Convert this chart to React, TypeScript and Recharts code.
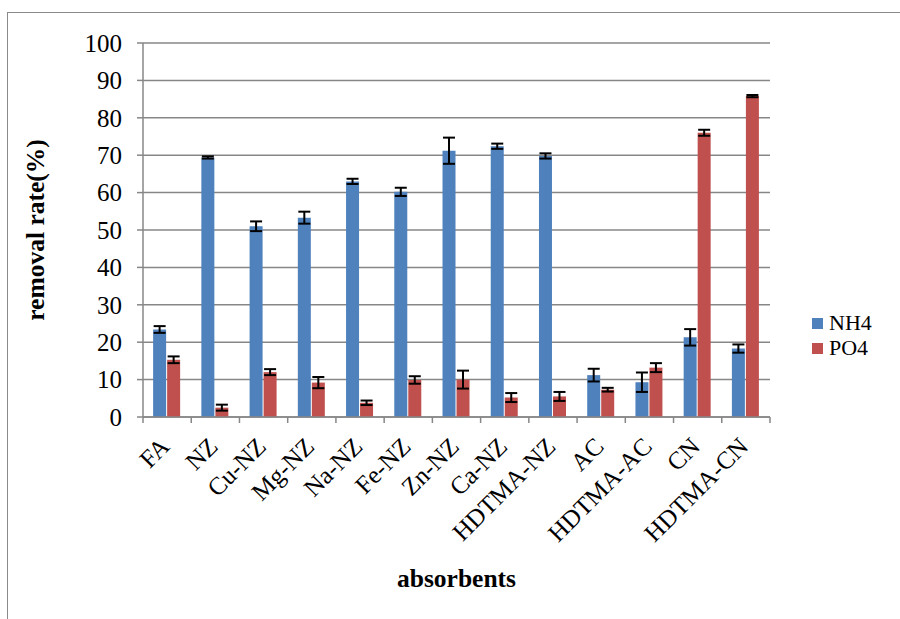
import React from 'react';
import { BarChart, Bar, XAxis, YAxis, CartesianGrid, ErrorBar } from 'recharts';

const categories = ['FA', 'NZ', 'Cu-NZ', 'Mg-NZ', 'Na-NZ', 'Fe-NZ', 'Zn-NZ', 'Ca-NZ', 'HDTMA-NZ', 'AC', 'HDTMA-AC', 'CN', 'HDTMA-CN'];
const nh4 = [23.4, 69.4, 51.0, 53.3, 63.0, 60.2, 71.2, 72.4, 69.8, 11.2, 9.3, 21.3, 18.3];
const nh4Err = [0.9, 0.3, 1.3, 1.6, 0.7, 1.1, 3.5, 0.7, 0.7, 1.7, 2.6, 2.2, 1.1];
const po4 = [15.3, 2.5, 12.0, 9.2, 3.8, 9.9, 10.0, 5.2, 5.5, 7.3, 13.2, 76.0, 85.8];
const po4Err = [0.9, 0.8, 0.8, 1.5, 0.6, 1.0, 2.4, 1.2, 1.2, 0.5, 1.2, 0.8, 0.3];
const yTicks = [0, 10, 20, 30, 40, 50, 60, 70, 80, 90, 100];
const seriesNames = ['NH4', 'PO4'];
const colors = ['#4F81BD', '#C0504D'];

const data = categories.map((c, i) => ({
  name: c,
  nh4: nh4[i],
  nh4Err: nh4Err[i],
  po4: po4[i],
  po4Err: po4Err[i],
}));

const W = 900;
const H = 619;
const MARGIN = { top: 43, right: 130, left: 0, bottom: 52 };
const Y_AXIS_W = 143;
const X_AXIS_H = 150;
const PLOT_W = W - MARGIN.left - MARGIN.right - Y_AXIS_W;
const BAND = PLOT_W / categories.length;
const FONT = '"Liberation Serif", "Times New Roman", serif';
const GRID = '#878787';

const CatTick = (props: any) => {
  const { x, y, payload, index } = props;
  const ax = x + 4;
  const ay = y + 31;
  return (
    <g>
      <line x1={x - BAND / 2} y1={y} x2={x - BAND / 2} y2={y + 6} stroke={GRID} strokeWidth={1.5} />
      {index === categories.length - 1 && (
        <line x1={x + BAND / 2} y1={y} x2={x + BAND / 2} y2={y + 6} stroke={GRID} strokeWidth={1.5} />
      )}
      <text
        x={ax}
        y={ay}
        textAnchor="end"
        transform={`rotate(-45 ${ax} ${ay})`}
        fontFamily={FONT}
        fontSize={25}
        fill="#000"
      >
        {payload.value}
      </text>
    </g>
  );
};

const YLabel = (props: any) => {
  const { viewBox } = props;
  const cx = viewBox.x + 35;
  const cy = viewBox.y + viewBox.height / 2;
  return (
    <text
      x={cx}
      y={cy}
      transform={`rotate(-90 ${cx} ${cy})`}
      textAnchor="middle"
      dominantBaseline="central"
      fontFamily={FONT}
      fontWeight="bold"
      fontSize={25.5}
      fill="#000"
    >
      removal rate(%)
    </text>
  );
};

const XLabel = (props: any) => {
  const { viewBox } = props;
  const cx = viewBox.x + viewBox.width / 2;
  const cy = viewBox.y + 161;
  return (
    <text
      x={cx}
      y={cy}
      textAnchor="middle"
      dominantBaseline="central"
      fontFamily={FONT}
      fontWeight="bold"
      fontSize={25.5}
      fill="#000"
    >
      absorbents
    </text>
  );
};

export default function App() {
  return (
    <div style={{ position: 'fixed', left: 0, top: 0, width: W, height: H, overflow: 'hidden', background: '#fff' }}>
      <div
        style={{
          position: 'absolute',
          left: 7,
          top: 12,
          width: 1000,
          height: 1000,
          borderLeft: '1.5px solid #8a8a8a',
          borderTop: '1.5px solid #8a8a8a',
        }}
      />
      <div style={{ position: 'absolute', left: 0, top: 0 }}>
        <BarChart
          width={W}
          height={H}
          data={data}
          margin={MARGIN}
          barCategoryGap="21%"
          barGap={1}
        >
          <CartesianGrid vertical={false} stroke={GRID} strokeWidth={1.5} />
          <XAxis
            dataKey="name"
            height={X_AXIS_H}
            interval={0}
            tickLine={false}
            tickSize={0}
            tickMargin={0}
            axisLine={{ stroke: GRID, strokeWidth: 1.5 }}
            tick={<CatTick />}
            label={<XLabel />}
          />
          <YAxis
            width={Y_AXIS_W}
            domain={[0, 100]}
            ticks={yTicks}
            interval={0}
            tickSize={6}
            tickMargin={15}
            axisLine={{ stroke: GRID, strokeWidth: 1.5 }}
            tickLine={{ stroke: GRID, strokeWidth: 1.5 }}
            tick={{ fontFamily: FONT, fontSize: 25, fill: '#000' }}
            label={<YLabel />}
          />
          <Bar dataKey="nh4" name={seriesNames[0]} fill={colors[0]} isAnimationActive={false}>
            <ErrorBar dataKey="nh4Err" width={6} stroke="#000" strokeWidth={2} direction="y" />
          </Bar>
          <Bar dataKey="po4" name={seriesNames[1]} fill={colors[1]} isAnimationActive={false}>
            <ErrorBar dataKey="po4Err" width={6} stroke="#000" strokeWidth={2} direction="y" />
          </Bar>
        </BarChart>
      </div>
      {seriesNames.map((n, i) => (
        <div
          key={n}
          style={{
            position: 'absolute',
            left: 812,
            top: 310 + i * 25,
            display: 'flex',
            alignItems: 'center',
            fontFamily: FONT,
            fontSize: 22,
            color: '#000',
            lineHeight: '26px',
          }}
        >
          <span style={{ display: 'inline-block', width: 11, height: 11, background: colors[i], marginRight: 6 }} />
          {n}
        </div>
      ))}
    </div>
  );
}
